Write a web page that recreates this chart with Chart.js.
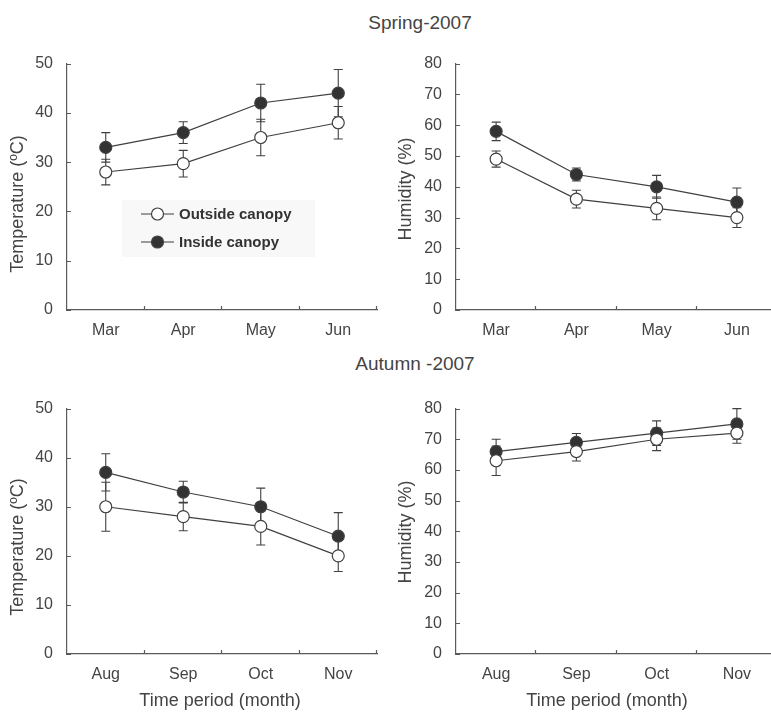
<!DOCTYPE html>
<html>
<head>
<meta charset="utf-8">
<script src="https://cdn.jsdelivr.net/npm/chart.js@4.4.1/dist/chart.umd.min.js"></script>
<style>
  body { margin: 0; background: #fff; }
  #wrap { position: relative; width: 771px; height: 712px; overflow: hidden; background: #fff; }
  #wrap canvas { position: absolute; }
  .title {
    position: absolute; width: 200px; text-align: center;
    font: 19px "Liberation Sans", Arial, sans-serif; line-height: 22px; color: #444;
  }
</style>
</head>
<body>
<div id="wrap">
  <div class="title" style="left:320px; top:12px;">Spring-2007</div>
  <div class="title" style="left:315px; top:353px;">Autumn -2007</div>
  <canvas id="c1" width="390" height="300" style="left:0; top:40px;"></canvas>
  <canvas id="c2" width="390" height="300" style="left:390px; top:40px;"></canvas>
  <canvas id="c3" width="390" height="327" style="left:0; top:385px;"></canvas>
  <canvas id="c4" width="390" height="327" style="left:390px; top:385px;"></canvas>
</div>
<script>
// Categories
const springMonths = ["Mar", "Apr", "May", "Jun"];
const autumnMonths = ["Aug", "Sep", "Oct", "Nov"];

// Spring temperature (ºC) and error bars
const springTempOut = [28, 29.7, 35, 38];
const springTempOutErr = [2.6, 2.7, 3.7, 3.3];
const springTempIn = [33, 36, 42, 44];
const springTempInErr = [3.0, 2.2, 3.8, 4.8];

// Spring humidity (%)
const springHumOut = [49, 36, 33, 30];
const springHumOutErr = [2.6, 2.9, 3.7, 3.2];
const springHumIn = [58, 44, 40, 35];
const springHumInErr = [3.0, 2.1, 3.7, 4.6];

// Autumn temperature (ºC)
const autumnTempOut = [30, 28, 26, 20];
const autumnTempOutErr = [5.0, 2.9, 3.8, 3.2];
const autumnTempIn = [37, 33, 30, 24];
const autumnTempInErr = [3.8, 2.2, 3.8, 4.8];

// Autumn humidity (%)
const autumnHumOut = [63, 66, 70, 72];
const autumnHumOutErr = [4.8, 3.1, 3.7, 3.3];
const autumnHumIn = [66, 69, 72, 75];
const autumnHumInErr = [4.0, 2.9, 4.0, 5.0];

const seriesNames = ["Outside canopy", "Inside canopy"];

const INK = "#404040";
const AXIS = "#5a5a5a";
const FONT = '"Liberation Sans", Arial, sans-serif';

// Error bars, drawn under the markers
const errorBars = {
    id: "errorBars",
    beforeDatasetsDraw(chart) {
        const ctx = chart.ctx;
        const y = chart.scales.y;
        ctx.save();
        ctx.strokeStyle = INK;
        ctx.lineWidth = 1.1;
        chart.data.datasets.forEach((ds, di) => {
            const meta = chart.getDatasetMeta(di);
            meta.data.forEach((pt, i) => {
                const v = ds.data[i], e = ds.errors[i];
                const top = y.getPixelForValue(v + e);
                const bot = y.getPixelForValue(v - e);
                ctx.beginPath();
                ctx.moveTo(pt.x, top); ctx.lineTo(pt.x, bot);
                ctx.moveTo(pt.x - 4.5, top); ctx.lineTo(pt.x + 4.5, top);
                ctx.moveTo(pt.x - 4.5, bot); ctx.lineTo(pt.x + 4.5, bot);
                ctx.stroke();
            });
        });
        ctx.restore();
    }
};

// Inward tick marks + axis titles + optional legend
const decorations = {
    id: "decorations",
    afterDraw(chart, args, opts) {
        const ctx = chart.ctx;
        const a = chart.chartArea;
        const xs = chart.scales.x, ys = chart.scales.y;
        ctx.save();
        ctx.strokeStyle = AXIS;
        ctx.lineWidth = 1.2;
        ctx.beginPath();
        ys.ticks.forEach((t, i) => {
            const py = Math.round(ys.getPixelForTick(i)) + 0.5;
            ctx.moveTo(a.left, py); ctx.lineTo(a.left + 4, py);
        });
        const n = xs.ticks.length;
        const step = (a.right - a.left) / n;
        for (let k = 1; k <= n; k++) {
            const px = Math.round(a.left + k * step) - 0.5;
            ctx.moveTo(px, a.bottom); ctx.lineTo(px, a.bottom - 4);
        }
        ctx.stroke();

        ctx.fillStyle = "#444";
        ctx.font = "18px " + FONT;
        ctx.textAlign = "center";
        ctx.textBaseline = "middle";
        if (opts.yTitle) {
            ctx.save();
            ctx.translate(opts.yTitle.x, opts.yTitle.y);
            ctx.rotate(-Math.PI / 2);
            ctx.fillText(opts.yTitle.text, 0, 0);
            ctx.restore();
        }
        if (opts.xTitle) {
            ctx.fillText(opts.xTitle.text, opts.xTitle.x, opts.xTitle.y);
        }

        if (opts.legend) {
            const L = opts.legend;
            ctx.fillStyle = "#f8f8f8";
            ctx.fillRect(L.x, L.y, L.w, L.h);
            ctx.font = "bold 15px " + FONT;
            ctx.textAlign = "left";
            chart.data.datasets.forEach((ds, di) => {
                const cy = L.y + 14 + di * 28;
                ctx.strokeStyle = INK;
                ctx.lineWidth = 1.2;
                ctx.beginPath();
                ctx.moveTo(L.x + 19, cy); ctx.lineTo(L.x + 52, cy);
                ctx.stroke();
                ctx.beginPath();
                ctx.arc(L.x + 35.5, cy, 6, 0, Math.PI * 2);
                ctx.fillStyle = ds.pointBackgroundColor;
                ctx.fill();
                ctx.stroke();
                ctx.fillStyle = "#333";
                ctx.fillText(ds.label, L.x + 57, cy + 1);
            });
        }
        ctx.restore();
    }
};

function makeSeries(values, errors, name, filled) {
    return {
        label: name,
        data: values,
        errors: errors,
        borderColor: INK,
        borderWidth: 1.2,
        pointRadius: 6,
        pointBorderWidth: 1.2,
        pointBorderColor: INK,
        pointBackgroundColor: filled ? "#333" : "#fff",
        fill: false,
        tension: 0
    };
}

function makeChart(id, labels, outVals, outErr, inVals, inErr, yMax, pad, xHeight, deco) {
    return new Chart(document.getElementById(id), {
        type: "line",
        data: {
            labels: labels,
            datasets: [
                makeSeries(outVals, outErr, seriesNames[0], false),
                makeSeries(inVals, inErr, seriesNames[1], true)
            ]
        },
        options: {
            responsive: false,
            animation: false,
            layout: { padding: pad, autoPadding: false },
            plugins: {
                legend: { display: false },
                tooltip: { enabled: false },
                decorations: deco
            },
            scales: {
                x: {
                    offset: true,
                    grid: { display: false, drawTicks: false },
                    border: { display: true, color: AXIS, width: 1.2 },
                    ticks: { color: "#444", font: { family: FONT, size: 16 }, padding: 11 },
                    afterFit: s => { s.height = xHeight; }
                },
                y: {
                    min: 0,
                    max: yMax,
                    ticks: { stepSize: 10, color: "#444", font: { family: FONT, size: 16 }, padding: 14 },
                    grid: { display: false, drawTicks: false },
                    border: { display: true, color: AXIS, width: 1.2 },
                    afterFit: s => { s.width = pad.yWidth; }
                }
            }
        },
        plugins: [errorBars, decorations]
    });
}

document.addEventListener("DOMContentLoaded", function () {
    makeChart("c1", springMonths, springTempOut, springTempOutErr, springTempIn, springTempInErr, 50,
        { left: 0, top: 17, right: 13, bottom: 0, yWidth: 67 }, 30,
        { yTitle: { text: "Temperature (ºC)", x: 18.5, y: 164 },
          legend: { x: 122, y: 160, w: 193, h: 57 } });

    makeChart("c2", springMonths, springHumOut, springHumOutErr, springHumIn, springHumInErr, 80,
        { left: 0, top: 17, right: 3, bottom: 0, yWidth: 66 }, 30,
        { yTitle: { text: "Humidity (%)", x: 16, y: 149 } });

    makeChart("c3", autumnMonths, autumnTempOut, autumnTempOutErr, autumnTempIn, autumnTempInErr, 50,
        { left: 0, top: 17, right: 13, bottom: 28, yWidth: 67 }, 30,
        { yTitle: { text: "Temperature (ºC)", x: 18.5, y: 162 },
          xTitle: { text: "Time period (month)", x: 220, y: 316 } });

    makeChart("c4", autumnMonths, autumnHumOut, autumnHumOutErr, autumnHumIn, autumnHumInErr, 80,
        { left: 0, top: 17, right: 3, bottom: 28, yWidth: 66 }, 30,
        { yTitle: { text: "Humidity (%)", x: 16, y: 147 },
          xTitle: { text: "Time period (month)", x: 217, y: 316 } });
});
</script>
</body>
</html>
